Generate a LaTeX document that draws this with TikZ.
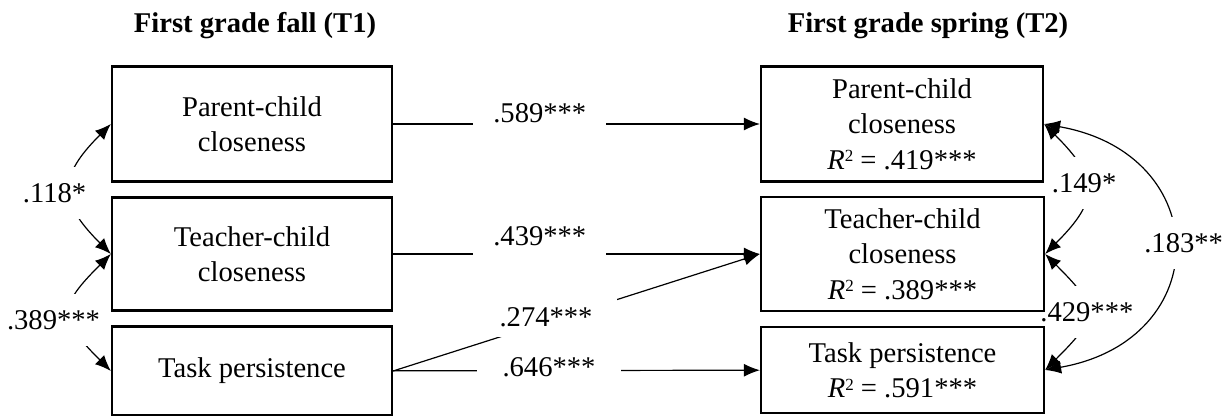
\documentclass[tikz,border=0pt]{standalone}
\usepackage{fontspec}
\setmainfont{Liberation Serif}
\usetikzlibrary{arrows.meta}
\pgfdeclarelayer{bg}
\pgfsetlayers{bg,main}
\newcommand{\rsq}{\textit{R}\raisebox{0.55ex}{\fontsize{8.5}{8.5}\selectfont 2}}

\begin{document}
\begin{tikzpicture}[x=0.5pt,y=0.5pt,
  every node/.style={font=\fontsize{14.3}{17.7}\selectfont},
  box/.style={draw,line width=1.1pt,align=center,minimum width=140pt},
  conn/.style={line width=0.6pt,>={Latex[length=8pt,width=6.5pt]}},
  lbl/.style={fill=white,inner xsep=10pt,inner ysep=6pt},
  clbl/.style={fill=white,inner xsep=2pt,inner ysep=8pt}]
\useasboundingbox (0,0) rectangle (1232,-416);

% time points
\node[anchor=base,font=\fontsize{14.3}{17.7}\selectfont\bfseries] (T1) at (255,-33) {First grade fall (T1)};
\node[anchor=base,font=\fontsize{14.3}{17.7}\selectfont\bfseries] (T2) at (928,-33) {First grade spring (T2)};

% T1 boxes
\node[box,minimum height=57.5pt] (PC1) at (252,-124) {Parent-child\\closeness};
\node[box,minimum height=56.5pt] (TC1) at (252,-254) {Teacher-child\\closeness};
\node[box,minimum height=44.5pt] (TP1) at (252,-371) {Task persistence};

% T2 boxes
\node[box,minimum width=141pt,minimum height=57.5pt] (PC2) at (902,-124) {Parent-child\\closeness\\\rsq{} = .419***};
\node[box,minimum width=141.5pt,minimum height=57pt] (TC2) at (902.5,-254) {Teacher-child\\closeness\\\rsq{} = .389***};
\node[box,minimum width=141.5pt,minimum height=43pt] (TP2) at (902.5,-370) {Task persistence\\\rsq{} = .591***};

\begin{pgfonlayer}{bg}
% stability paths
\draw[conn,->] (PC1) -- node[lbl,pos=.40,yshift=5.5pt]{.589***} (PC2);
\draw[conn,->] (TC1) -- node[lbl,pos=.40,yshift=9pt]{.439***} (TC2);
\draw[conn,->] (TP1) -- node[lbl,pos=.425,yshift=1.75pt,inner xsep=13pt]{.646***} (TP2);
\draw[conn,->] (TP1.east) -- node[lbl,pos=.417,yshift=2.5pt,inner xsep=12pt,inner ysep=5pt]{.274***} (TC2.west);

% correlations T1
\draw[conn,<->] (PC1.west) to[out=225,in=135,looseness=1.48] node[clbl,xshift=-8.25pt,yshift=-2pt]{.118*} (TC1.west);
\draw[conn,<->] (TC1.west) to[out=225,in=135,looseness=1.65] node[clbl,xshift=-8.75pt,yshift=-3.75pt]{.389***} (TP1.west);

% residual correlations T2
\draw[conn,<->] (PC2.east) to[out=-45,in=45,looseness=1.52] node[clbl,xshift=-0.75pt,yshift=3pt]{.149*} (TC2.east);
\draw[conn,<->] (TC2.east) to[out=-45,in=45,looseness=1.7] node[clbl,xshift=0.5pt]{.429***} (TP2.east);
\draw[conn,<->] (PC2.east) to[out=-10,in=10,looseness=1.8] node[clbl,xshift=5.5pt,yshift=2pt]{.183**} (TP2.east);
\end{pgfonlayer}
\end{tikzpicture}
\end{document}
